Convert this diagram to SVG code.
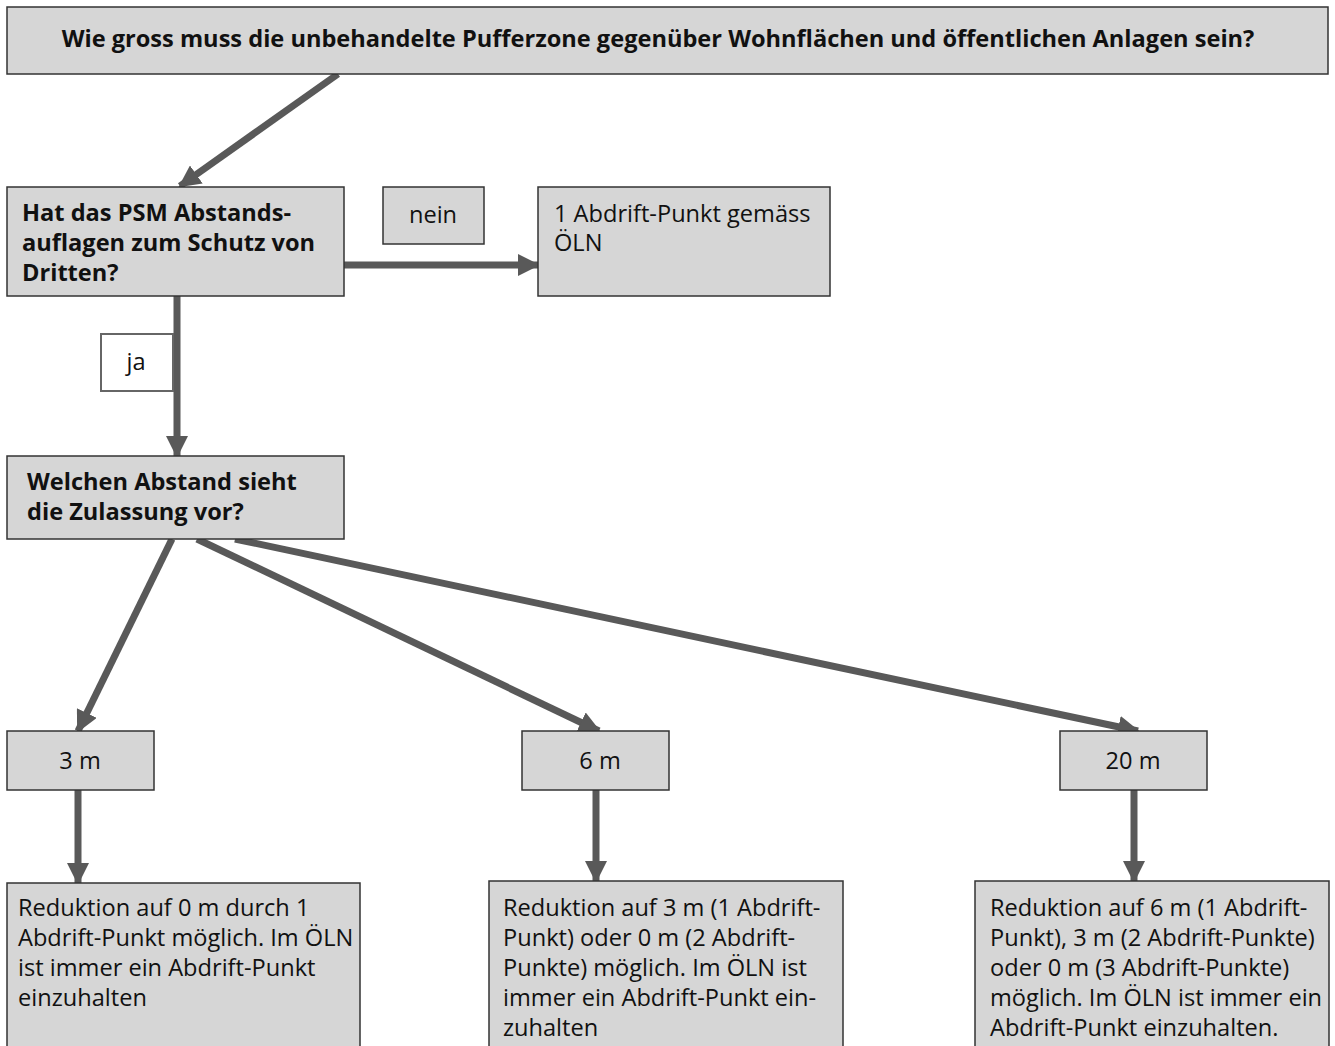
<svg xmlns="http://www.w3.org/2000/svg" width="1335" height="1046" viewBox="0 0 1335 1046">
<style>
.box{fill:#d6d6d6;stroke:#333;stroke-width:1.5}
.wbox{fill:#fff;stroke:#666;stroke-width:2}
.t{font-family:"Open Sans","Noto Sans",sans-serif;font-size:23.6px;fill:#111}
.b{font-weight:bold}
.c{text-anchor:middle}
.con{stroke:#595959;stroke-width:7;fill:none}
</style>
<defs>
<marker id="ah" markerUnits="userSpaceOnUse" markerWidth="22" markerHeight="22" viewBox="0 0 22 22" refX="20" refY="11" orient="auto">
<path d="M0,0 L22,11 L0,22 Z" fill="#595959"/>
</marker>
</defs>
<rect width="1335" height="1046" fill="#fff"/>
<g id="connectors">
<line class="con" x1="338" y1="74" x2="180" y2="186" marker-end="url(#ah)"/>
<line class="con" x1="344" y1="265" x2="538" y2="265" marker-end="url(#ah)"/>
<line class="con" x1="177" y1="296" x2="177" y2="456" marker-end="url(#ah)"/>
<line class="con" x1="172" y1="539" x2="78" y2="731" marker-end="url(#ah)"/>
<line class="con" x1="197" y1="539" x2="599" y2="731" marker-end="url(#ah)"/>
<line class="con" x1="235" y1="539" x2="1138" y2="731" marker-end="url(#ah)"/>
<line class="con" x1="78" y1="790" x2="78" y2="883" marker-end="url(#ah)"/>
<line class="con" x1="596" y1="790" x2="596" y2="881" marker-end="url(#ah)"/>
<line class="con" x1="1134" y1="790" x2="1134" y2="881" marker-end="url(#ah)"/>
</g>
<g id="top">
<rect class="box" x="7" y="7" width="1321" height="67"/>
<text class="t b c" x="658" y="47">Wie gross muss die unbehandelte Pufferzone gegenüber Wohnflächen und öffentlichen Anlagen sein?</text>
</g>
<g id="q1">
<rect class="box" x="7" y="187" width="337" height="109"/>
<text class="t b" x="22" y="221">Hat das PSM Abstands-</text>
<text class="t b" x="22" y="251">auflagen zum Schutz von</text>
<text class="t b" x="22" y="281">Dritten?</text>
</g>
<g id="nein">
<rect class="box" x="383" y="187" width="101" height="57"/>
<text class="t c" x="433" y="223">nein</text>
</g>
<g id="oeln">
<rect class="box" x="538" y="187" width="292" height="109"/>
<text class="t" x="554" y="222">1 Abdrift-Punkt gemäss</text>
<text class="t" x="554" y="251">ÖLN</text>
</g>
<g id="ja">
<rect class="wbox" x="101" y="334" width="72" height="57"/>
<text class="t c" x="136" y="370">ja</text>
</g>
<g id="q2">
<rect class="box" x="7" y="456" width="337" height="83"/>
<text class="t b" x="27" y="490">Welchen Abstand sieht</text>
<text class="t b" x="27" y="520">die Zulassung vor?</text>
</g>
<g id="m3">
<rect class="box" x="7" y="731" width="147" height="59"/>
<text class="t c" x="80" y="769">3 m</text>
</g>
<g id="m6">
<rect class="box" x="522" y="731" width="147" height="59"/>
<text class="t c" x="600" y="769">6 m</text>
</g>
<g id="m20">
<rect class="box" x="1060" y="731" width="147" height="59"/>
<text class="t c" x="1133" y="769">20 m</text>
</g>
<g id="r3">
<rect class="box" x="7" y="883" width="353" height="170"/>
<text class="t" x="18" y="916">Reduktion auf 0 m durch 1</text>
<text class="t" x="18" y="946">Abdrift-Punkt möglich. Im ÖLN</text>
<text class="t" x="18" y="976">ist immer ein Abdrift-Punkt</text>
<text class="t" x="18" y="1006">einzuhalten</text>
</g>
<g id="r6">
<rect class="box" x="489" y="881" width="354" height="172"/>
<text class="t" x="503" y="916">Reduktion auf 3 m (1 Abdrift-</text>
<text class="t" x="503" y="946">Punkt) oder 0 m (2 Abdrift-</text>
<text class="t" x="503" y="976">Punkte) möglich. Im ÖLN ist</text>
<text class="t" x="503" y="1006">immer ein Abdrift-Punkt ein-</text>
<text class="t" x="503" y="1036">zuhalten</text>
</g>
<g id="r20">
<rect class="box" x="975" y="881" width="354" height="172"/>
<text class="t" x="990" y="916">Reduktion auf 6 m (1 Abdrift-</text>
<text class="t" x="990" y="946">Punkt), 3 m (2 Abdrift-Punkte)</text>
<text class="t" x="990" y="976">oder 0 m (3 Abdrift-Punkte)</text>
<text class="t" x="990" y="1006">möglich. Im ÖLN ist immer ein</text>
<text class="t" x="990" y="1036">Abdrift-Punkt einzuhalten.</text>
</g>
</svg>
